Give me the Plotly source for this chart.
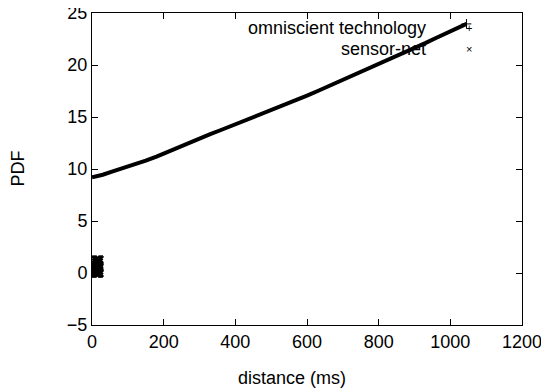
import plotly.graph_objects as go

# omniscient technology series
omni_x = [0, 30, 60, 90, 120, 150, 180, 210, 240, 270, 300, 330, 360, 390, 420,
          450, 480, 510, 540, 570, 600, 630, 660, 690, 720, 750, 780, 810, 840,
          870, 900, 930, 960, 990, 1020, 1045]
omni_y = [9.2, 9.45, 9.8, 10.1, 10.45, 10.8, 11.2, 11.65, 12.1, 12.5, 12.95,
          13.35, 13.75, 14.15, 14.55, 14.95, 15.35, 15.75, 16.15, 16.6, 17.05,
          17.5, 17.95, 18.4, 18.85, 19.3, 19.75, 20.2, 20.65, 21.1, 21.6,
          22.1, 22.6, 23.1, 23.5, 23.95]

# sensor-net series (small cluster near origin)
sensor_x = [10, 12, 14, 16, 18, 20, 10, 13, 16, 19, 11, 14, 17, 20, 10, 13, 16, 19,
            12, 15, 18, 11, 14, 17, 20]
sensor_y = [0.0, 0.0, 0.0, 0.0, 0.0, 0.0, 0.25, 0.25, 0.25, 0.25, 0.5, 0.5, 0.5, 0.5,
            0.75, 0.75, 0.75, 0.75, 1.0, 1.0, 1.0, 1.25, 1.25, 1.25, 1.25]

x_ticks = [0, 200, 400, 600, 800, 1000, 1200]
y_ticks = [-5, 0, 5, 10, 15, 20, 25]

FONT = "Liberation Sans, Arial, sans-serif"

fig = go.Figure()
fig.add_trace(go.Scatter(
    x=omni_x, y=omni_y, mode="lines",
    line=dict(color="black", width=4),
    showlegend=False))
fig.add_trace(go.Scatter(
    x=omni_x[-1:], y=omni_y[-1:], mode="markers",
    marker=dict(symbol="cross-thin", size=7, line=dict(color="black", width=1)),
    showlegend=False))
fig.add_trace(go.Scatter(
    x=sensor_x, y=sensor_y, mode="markers",
    marker=dict(symbol="x-thin", size=8, line=dict(color="black", width=2.5)),
    showlegend=False))

axis_common = dict(
    showline=True, linecolor="black", linewidth=1, mirror="allticks",
    ticks="inside", ticklen=6, tickcolor="black", tickwidth=1,
    showgrid=False, zeroline=False, ticklabeloverflow="allow", automargin=False,
    tickfont=dict(family=FONT, size=18, color="black"),
)
fig.update_xaxes(range=[0, 1200], tickvals=x_ticks, **axis_common)
fig.update_yaxes(range=[-5, 25], tickvals=y_ticks, **axis_common)

ann_font = dict(family=FONT, size=18, color="black")
fig.update_layout(
    width=541, height=381,
    margin=dict(l=84, r=27, t=5, b=64, autoexpand=False),
    plot_bgcolor="white", paper_bgcolor="white",
    annotations=[
        dict(text="distance (ms)", x=0.464, y=-0.17, xref="paper", yref="paper",
             showarrow=False, xanchor="center", yanchor="middle", font=ann_font),
        dict(text="PDF", x=-0.173, y=0.5, xref="paper", yref="paper", textangle=-90,
             showarrow=False, xanchor="center", yanchor="middle", font=ann_font),
        dict(text="omniscient technology", x=0.7814, y=0.952, xref="paper", yref="paper",
             showarrow=False, xanchor="right", yanchor="middle", font=ann_font),
        dict(text="sensor-net", x=0.7814, y=0.8846, xref="paper", yref="paper",
             showarrow=False, xanchor="right", yanchor="middle", font=ann_font),
        dict(text="+", x=0.8767, y=0.952, xref="paper", yref="paper",
             showarrow=False, xanchor="center", yanchor="middle",
             font=dict(family=FONT, size=11, color="black")),
        dict(text="×", x=0.8767, y=0.8846, xref="paper", yref="paper",
             showarrow=False, xanchor="center", yanchor="middle",
             font=dict(family=FONT, size=11, color="black")),
    ],
)

fig.write_html(
    "out.html",
    config={"displayModeBar": False},
    post_script="document.querySelectorAll('.main-svg').forEach(function(s){s.style.overflow='visible';});",
)
